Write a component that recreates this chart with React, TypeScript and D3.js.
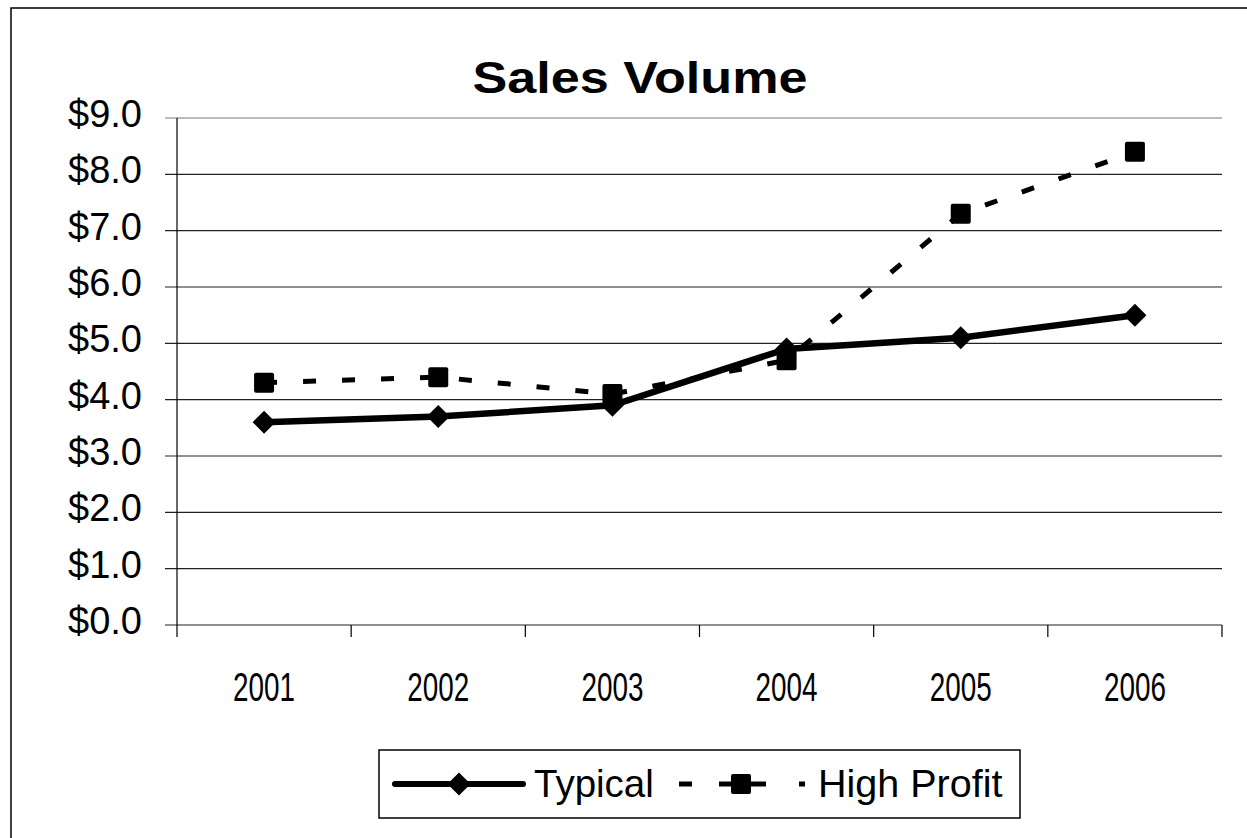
import React, { useEffect } from "react";
import * as d3 from "d3";

const years = ["2001", "2002", "2003", "2004", "2005", "2006"];
const typical = [3.6, 3.7, 3.9, 4.9, 5.1, 5.5];
const highProfit = [4.3, 4.4, 4.1, 4.7, 7.3, 8.4];
const yTicks = [0, 1, 2, 3, 4, 5, 6, 7, 8, 9];
const seriesNames = ["Typical", "High Profit"];
const title = "Sales Volume";

const W = 1247;
const H = 838;
const plot = { left: 177, right: 1222, top: 118, bottom: 625 };

export default function App() {
  useEffect(() => {
    document.body.style.margin = "0";
  }, []);

  const x = d3.scaleBand<string>().domain(years).range([plot.left, plot.right]).padding(0);
  const y = d3.scaleLinear().domain([0, 9]).range([plot.bottom, plot.top]);
  const cx = (yr: string) => (x(yr) as number) + x.bandwidth() / 2;

  const line = d3
    .line<number>()
    .x((_, i) => cx(years[i]))
    .y((d) => y(d));

  const diamond = (px: number, py: number, r = 11.5) =>
    `M${px},${py - r}L${px + r},${py}L${px},${py + r}L${px - r},${py}Z`;

  const sans = "'Liberation Sans', Arial, sans-serif";
  const dash = "13 26";

  const boundaries = years.map((yr) => x(yr) as number).concat([plot.right]);

  // legend
  const lg = { x: 379, y: 750, w: 641, h: 68 };
  const lgY = lg.y + lg.h / 2;
  const legendDashes: [number, number][] = [
    [679, 692],
    [719, 731],
    [751, 766],
    [799, 805],
  ];

  return (
    <svg width={W} height={H} style={{ display: "block" }}>
      <rect x={0} y={0} width={W} height={H} fill="#fff" />
      <rect x={11} y={8} width={W + 20} height={H + 20} fill="none" stroke="#000" strokeWidth={1.5} />
      <text
        x={640}
        y={93}
        textAnchor="middle"
        fontFamily={sans}
        fontWeight="bold"
        fontSize={44}
        textLength={335}
        lengthAdjust="spacingAndGlyphs"
      >
        {title}
      </text>

      {/* gridlines */}
      {yTicks.map((t) => (
        <line
          key={"g" + t}
          x1={plot.left - 12}
          x2={plot.right}
          y1={y(t)}
          y2={y(t)}
          stroke={t === 9 ? "#777" : "#222"}
          strokeWidth={1.2}
        />
      ))}
      {/* y axis */}
      <line x1={plot.left} x2={plot.left} y1={plot.top} y2={plot.bottom} stroke="#000" strokeWidth={1.2} />
      {yTicks.map((t) => (
        <text
          key={"yl" + t}
          x={142}
          y={y(t) + 9}
          textAnchor="end"
          fontFamily={sans}
          fontSize={38}
        >
          {"$" + t.toFixed(1)}
        </text>
      ))}
      {/* category ticks */}
      {boundaries.map((b, i) => (
        <line key={"ct" + i} x1={b} x2={b} y1={plot.bottom} y2={plot.bottom + 12} stroke="#000" strokeWidth={1.2} />
      ))}
      {years.map((yr) => (
        <text
          key={"xl" + yr}
          x={cx(yr)}
          y={701}
          textAnchor="middle"
          fontFamily={sans}
          fontSize={40}
          textLength={62}
          lengthAdjust="spacingAndGlyphs"
        >
          {yr}
        </text>
      ))}

      {/* High Profit */}
      <path d={line(highProfit) || ""} fill="none" stroke="#000" strokeWidth={5} strokeDasharray={dash} />
      {highProfit.map((v, i) => (
        <rect key={"hp" + i} x={cx(years[i]) - 10} y={y(v) - 10} width={20} height={20} rx={2} fill="#000" />
      ))}
      {/* Typical */}
      <path d={line(typical) || ""} fill="none" stroke="#000" strokeWidth={6.5} />
      {typical.map((v, i) => (
        <path key={"tp" + i} d={diamond(cx(years[i]), y(v))} fill="#000" />
      ))}

      {/* legend */}
      <rect x={lg.x} y={lg.y} width={lg.w} height={lg.h} fill="#fff" stroke="#000" strokeWidth={1.5} />
      <line x1={395} x2={523} y1={lgY} y2={lgY} stroke="#000" strokeWidth={6} strokeLinecap="round" />
      <path d={diamond(459, lgY)} fill="#000" />
      <text x={534} y={lgY + 13} fontFamily={sans} fontSize={38.5}>
        {seriesNames[0]}
      </text>
      {legendDashes.map(([a, b], i) => (
        <line key={"ld" + i} x1={a} x2={b} y1={lgY} y2={lgY} stroke="#000" strokeWidth={5} />
      ))}
      <rect x={731} y={lgY - 10} width={20} height={20} rx={2} fill="#000" />
      <text x={818} y={lgY + 13} fontFamily={sans} fontSize={39.5}>
        {seriesNames[1]}
      </text>
    </svg>
  );
}
